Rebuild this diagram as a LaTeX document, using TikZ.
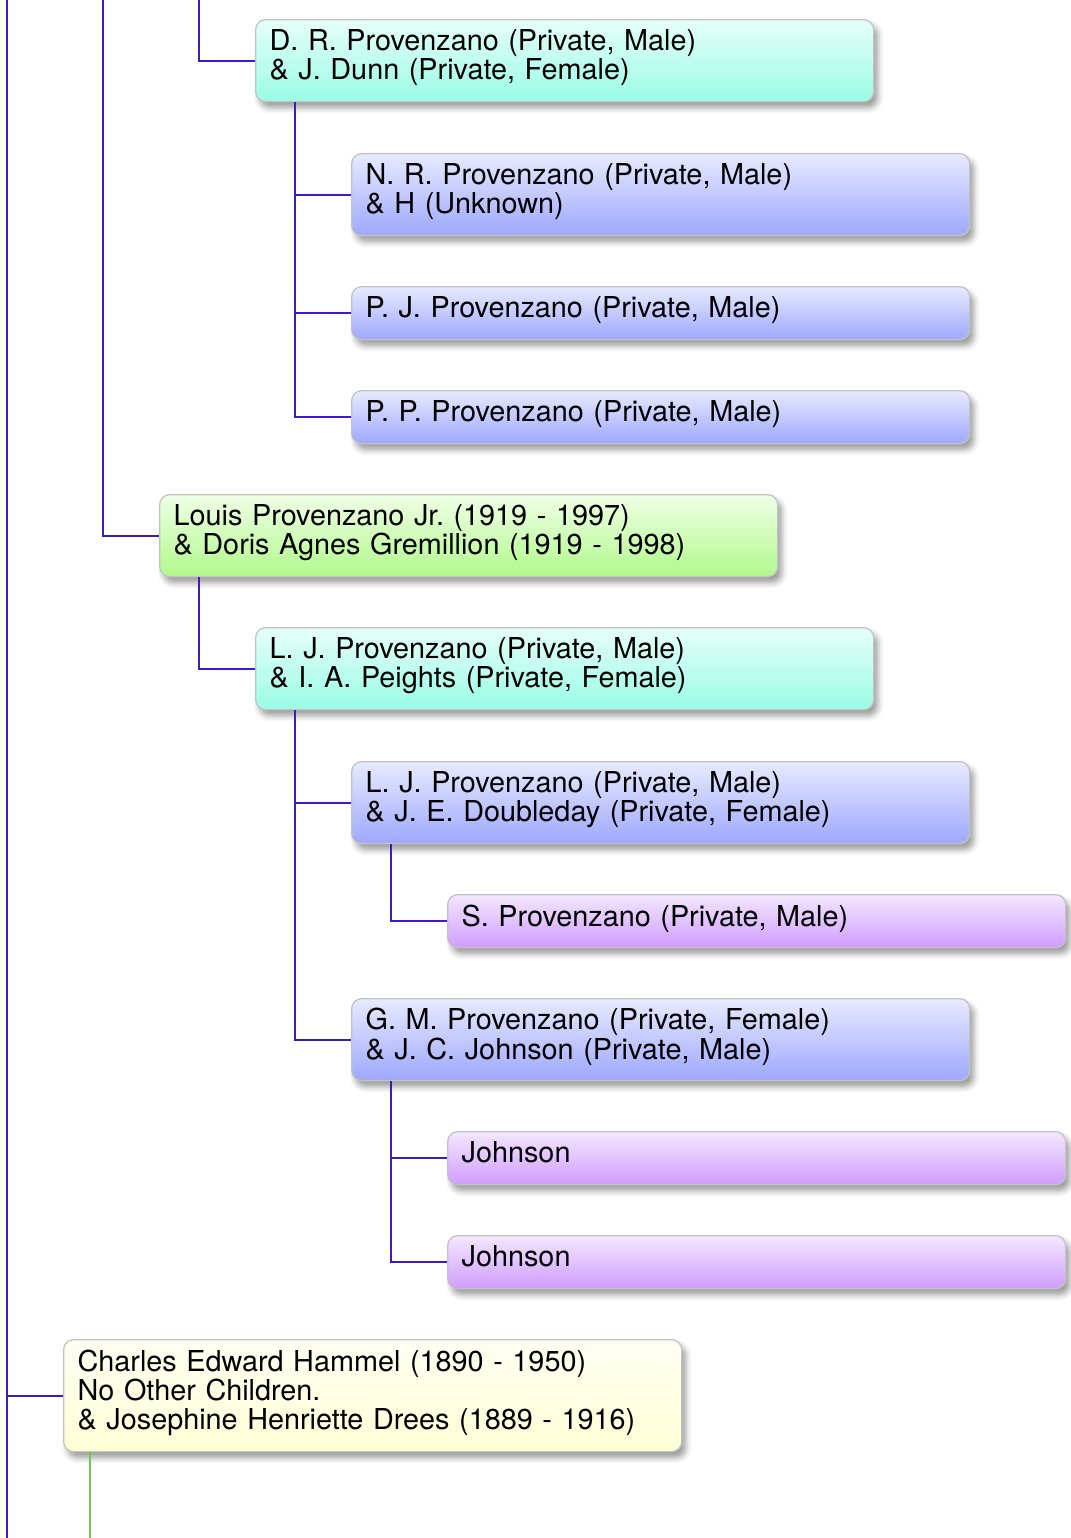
\documentclass[tikz,border=0pt]{standalone}
\usepackage{fontspec}
\setmainfont{TeX Gyre Heros}
\usetikzlibrary{shadows,shadows.blur}
\frenchspacing
\definecolor{connc}{RGB}{60,25,205}
\definecolor{conng}{RGB}{110,205,80}
\definecolor{boxline}{RGB}{195,195,195}
\definecolor{cyantop}{RGB}{230,255,248}
\definecolor{cyanbot}{RGB}{153,252,230}
\definecolor{bluetop}{RGB}{232,234,255}
\definecolor{bluebot}{RGB}{157,168,253}
\definecolor{purptop}{RGB}{243,232,255}
\definecolor{purpbot}{RGB}{208,156,255}
\definecolor{greentop}{RGB}{240,255,230}
\definecolor{greenbot}{RGB}{176,249,140}
\definecolor{yeltop}{RGB}{255,255,243}
\definecolor{yelbot}{RGB}{255,255,214}
\newcommand\topstr{\rule{0pt}{21pt}}
\newcommand\botstr{\rule[-11.7pt]{0pt}{11.7pt}}
\begin{document}
\begin{tikzpicture}[x=1pt,y=-1pt,
  box/.style={draw=boxline, line width=1.3pt, rounded corners=10pt, anchor=north west,
    minimum width=618pt, inner xsep=14pt, inner ysep=0pt, align=left, text width=590pt,
    font=\fontsize{28.8}{29.3}\selectfont,
    execute at begin node=\topstr, execute at end node=\botstr,
    blur shadow={shadow xshift=4pt, shadow yshift=-6pt, shadow blur radius=6pt, shadow opacity=40}},
  two/.style={minimum height=82pt},
  one/.style={minimum height=53pt},
  three/.style={minimum height=112pt},
  cyanbox/.style={top color=cyantop, bottom color=cyanbot},
  bluebox/.style={top color=bluetop, bottom color=bluebot},
  purpbox/.style={top color=purptop, bottom color=purpbot},
  greenbox/.style={top color=greentop, bottom color=greenbot},
  yelbox/.style={top color=yeltop, bottom color=yelbot},
  conn/.style={draw=connc, line width=2pt},
  conngreen/.style={draw=conng, line width=2pt}]
\useasboundingbox (0,0) rectangle (1070,1538);

% free ends
\coordinate (t1) at (7,0);
\coordinate (b1) at (7,1538);
\coordinate (t2) at (103,0);
\coordinate (t3) at (199,0);
\coordinate (b4) at (90,1538);

% boxes
\node[box,two,cyanbox] (dr) at (255,19) {D. R. Provenzano (Private, Male)\\\& J. Dunn (Private, Female)};
\node[box,two,bluebox] (nr) at (351,153) {N. R. Provenzano (Private, Male)\\\& H (Unknown)};
\node[box,one,bluebox] (pj) at (351,286) {P. J. Provenzano (Private, Male)};
\node[box,one,bluebox] (pp) at (351,390) {P. P. Provenzano (Private, Male)};
\node[box,two,greenbox] (lo) at (159,494) {Louis Provenzano Jr. (1919 - 1997)\\\& Doris Agnes Gremillion (1919 - 1998)};
\node[box,two,cyanbox] (lj) at (255,627) {L. J. Provenzano (Private, Male)\\\& I. A. Peights (Private, Female)};
\node[box,two,bluebox] (ljd) at (351,761) {L. J. Provenzano (Private, Male)\\\& J. E. Doubleday (Private, Female)};
\node[box,one,purpbox] (sp) at (447,894) {S. Provenzano (Private, Male)};
\node[box,two,bluebox] (gm) at (351,998) {G. M. Provenzano (Private, Female)\\\& J. C. Johnson (Private, Male)};
\node[box,one,purpbox] (jo1) at (447,1131) {Johnson};
\node[box,one,purpbox] (jo2) at (447,1235) {Johnson};
\node[box,three,yelbox] (ch) at (63,1339) {Charles Edward Hammel (1890 - 1950)\\No Other Children.\\\& Josephine Henriette Drees (1889 - 1916)};

% connectors
\draw[conn] (t1) -- (b1);
\draw[conn] (t1) |- (ch.west);
\draw[conn] (t2) |- (lo.west);
\draw[conn] (t3) |- (dr.west);
\draw[conn] ([xshift=40pt]dr.south west) |- (nr.west);
\draw[conn] ([xshift=40pt]dr.south west) |- (pj.west);
\draw[conn] ([xshift=40pt]dr.south west) |- (pp.west);
\draw[conn] ([xshift=40pt]lo.south west) |- (lj.west);
\draw[conn] ([xshift=40pt]lj.south west) |- (ljd.west);
\draw[conn] ([xshift=40pt]lj.south west) |- (gm.west);
\draw[conn] ([xshift=40pt]ljd.south west) |- (sp.west);
\draw[conn] ([xshift=40pt]gm.south west) |- (jo1.west);
\draw[conn] ([xshift=40pt]gm.south west) |- (jo2.west);
\draw[conngreen] ([xshift=27pt]ch.south west) -- (b4);
\end{tikzpicture}
\end{document}
